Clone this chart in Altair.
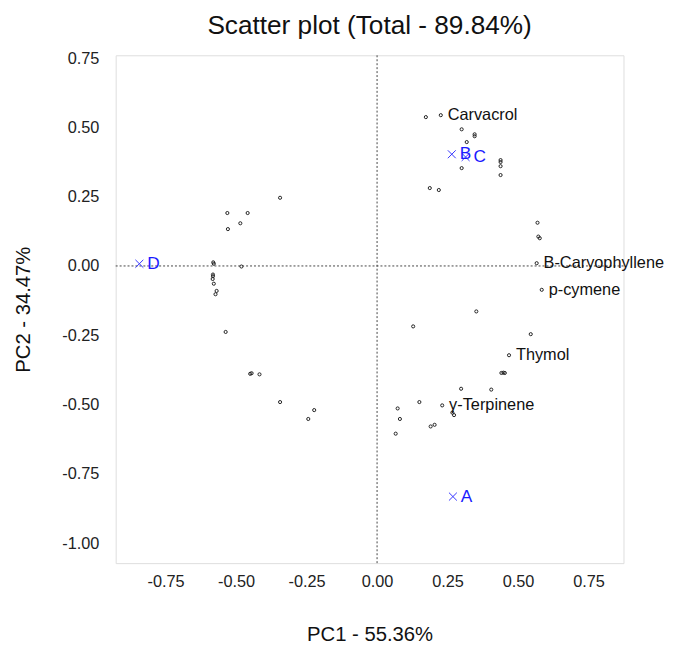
import altair as alt
import pandas as pd

# Variable loadings (open circles)
pc1 = [0.173, 0.226, 0.300, 0.346, 0.346, 0.318, 0.300, 0.438, 0.438, 0.438, 0.438, 0.187, 0.219,
       -0.344, -0.531, -0.459, -0.485, -0.529, -0.581, -0.579, -0.481, -0.582, -0.582, -0.583, -0.579,
       -0.569, -0.573, -0.537,
       -0.450, -0.445, -0.417, -0.344, -0.223, -0.244,
       0.569, 0.572, 0.577, 0.566, 0.584,
       0.352, 0.128, 0.545, 0.468, 0.441, 0.448, 0.453, 0.298, 0.405, 0.150, 0.231, 0.073,
       0.267, 0.273, 0.081, 0.190, 0.204, 0.066]
pc2 = [0.537, 0.544, 0.493, 0.475, 0.468, 0.447, 0.353, 0.382, 0.375, 0.360, 0.328, 0.281, 0.274,
       0.246, 0.191, 0.191, 0.154, 0.133, 0.013, 0.008, -0.002, -0.031, -0.037, -0.047, -0.064,
       -0.090, -0.102, -0.238,
       -0.389, -0.387, -0.391, -0.491, -0.520, -0.552,
       0.156, 0.106, 0.100, 0.010, -0.086,
       -0.164, -0.218, -0.246, -0.322, -0.386, -0.385, -0.386, -0.443, -0.446, -0.491, -0.503, -0.514,
       -0.529, -0.538, -0.552, -0.579, -0.573, -0.605]
var_names = ["", "Carvacrol", "", "", "", "", "", "", "", "", "", "", "",
             "", "", "", "", "", "", "", "", "", "", "", "",
             "", "", "",
             "", "", "", "", "", "",
             "", "", "", "B-Caryophyllene", "p-cymene",
             "", "", "", "Thymol", "", "", "", "", "", "", "\u03b3-Terpinene", "",
             "", "", "", "", "", ""]

# Sample groups (blue crosses)
grp_names = ["A", "B", "C", "D"]
grp_pc1 = [0.269, 0.265, 0.314, -0.843]
grp_pc2 = [-0.832, 0.403, 0.393, 0.008]

tick_vals = [-1.0, -0.75, -0.5, -0.25, 0.0, 0.25, 0.5, 0.75]

FONT = "Liberation Sans"

vars_df = pd.DataFrame({"PC1": pc1, "PC2": pc2, "name": var_names})
grp_df = pd.DataFrame({"PC1": grp_pc1, "PC2": grp_pc2, "name": grp_names})
zero_df = pd.DataFrame({"z": [0.0]})

label_expr = "(datum.value < 0 ? '-' : '') + format(abs(datum.value), '.2f')"

x_scale = alt.Scale(domain=[-0.927, 0.874], nice=False, zero=False)
y_scale = alt.Scale(domain=[-1.072, 0.76], nice=False, zero=False)

x_axis = alt.Axis(title="PC1 - 55.36%", values=tick_vals, labelExpr=label_expr,
                  grid=False, ticks=False, domain=False, labelFontSize=16.5,
                  titleFontSize=20.5, labelPadding=11, titlePadding=35,
                  labelFont=FONT, titleFont=FONT, labelColor="#222",
                  titleColor="#111", titleFontWeight="normal")
y_axis = alt.Axis(title="PC2 - 34.47%", values=tick_vals, labelExpr=label_expr,
                  grid=False, ticks=False, domain=False, labelFontSize=16.5,
                  titleFontSize=20.5, labelPadding=17, titlePadding=29,
                  labelFont=FONT, titleFont=FONT, labelColor="#222",
                  titleColor="#111", titleFontWeight="normal")

base_x = alt.X("PC1:Q", scale=x_scale, axis=x_axis)
base_y = alt.Y("PC2:Q", scale=y_scale, axis=y_axis)

vline = alt.Chart(zero_df).mark_rule(color="#444", strokeWidth=1, strokeDash=[2, 2]).encode(
    x=alt.X("z:Q", scale=x_scale, axis=x_axis))
hline = alt.Chart(zero_df).mark_rule(color="#444", strokeWidth=1, strokeDash=[2, 2]).encode(
    y=alt.Y("z:Q", scale=y_scale, axis=y_axis))

points = alt.Chart(vars_df).mark_point(shape="circle", filled=False, size=10,
                                       strokeWidth=1, color="#222", opacity=1).encode(
    x=base_x, y=base_y)
var_text = alt.Chart(vars_df).mark_text(align="left", baseline="middle", dx=7,
                                        fontSize=16.5, font=FONT, color="#111").encode(
    x=base_x, y=base_y, text="name:N")

crosses = alt.Chart(grp_df).mark_point(shape="M-1,-1L1,1M-1,1L1,-1", filled=False, size=64,
                                       strokeWidth=1, color="#3333ff", opacity=1).encode(
    x=base_x, y=base_y)
grp_text = alt.Chart(grp_df).mark_text(align="left", baseline="middle", dx=8,
                                       fontSize=17.5, font=FONT, color="#1a1aff").encode(
    x=base_x, y=base_y, text="name:N")

chart = alt.layer(vline, hline, points, var_text, crosses, grp_text).properties(
    width=514, height=514,
    autosize=alt.AutoSizeParams(type="none"),
    padding={"left": 109, "top": 44, "right": 42, "bottom": 79},
    title=alt.Title("Scatter plot (Total - 89.84%)", fontSize=26.5, font=FONT,
                    fontWeight="normal", anchor="middle", offset=11, color="#111"),
).configure_view(stroke="#555", strokeWidth=1).configure(background="white")

chart.save("out.html", embed_options={"renderer": "svg", "actions": False})
